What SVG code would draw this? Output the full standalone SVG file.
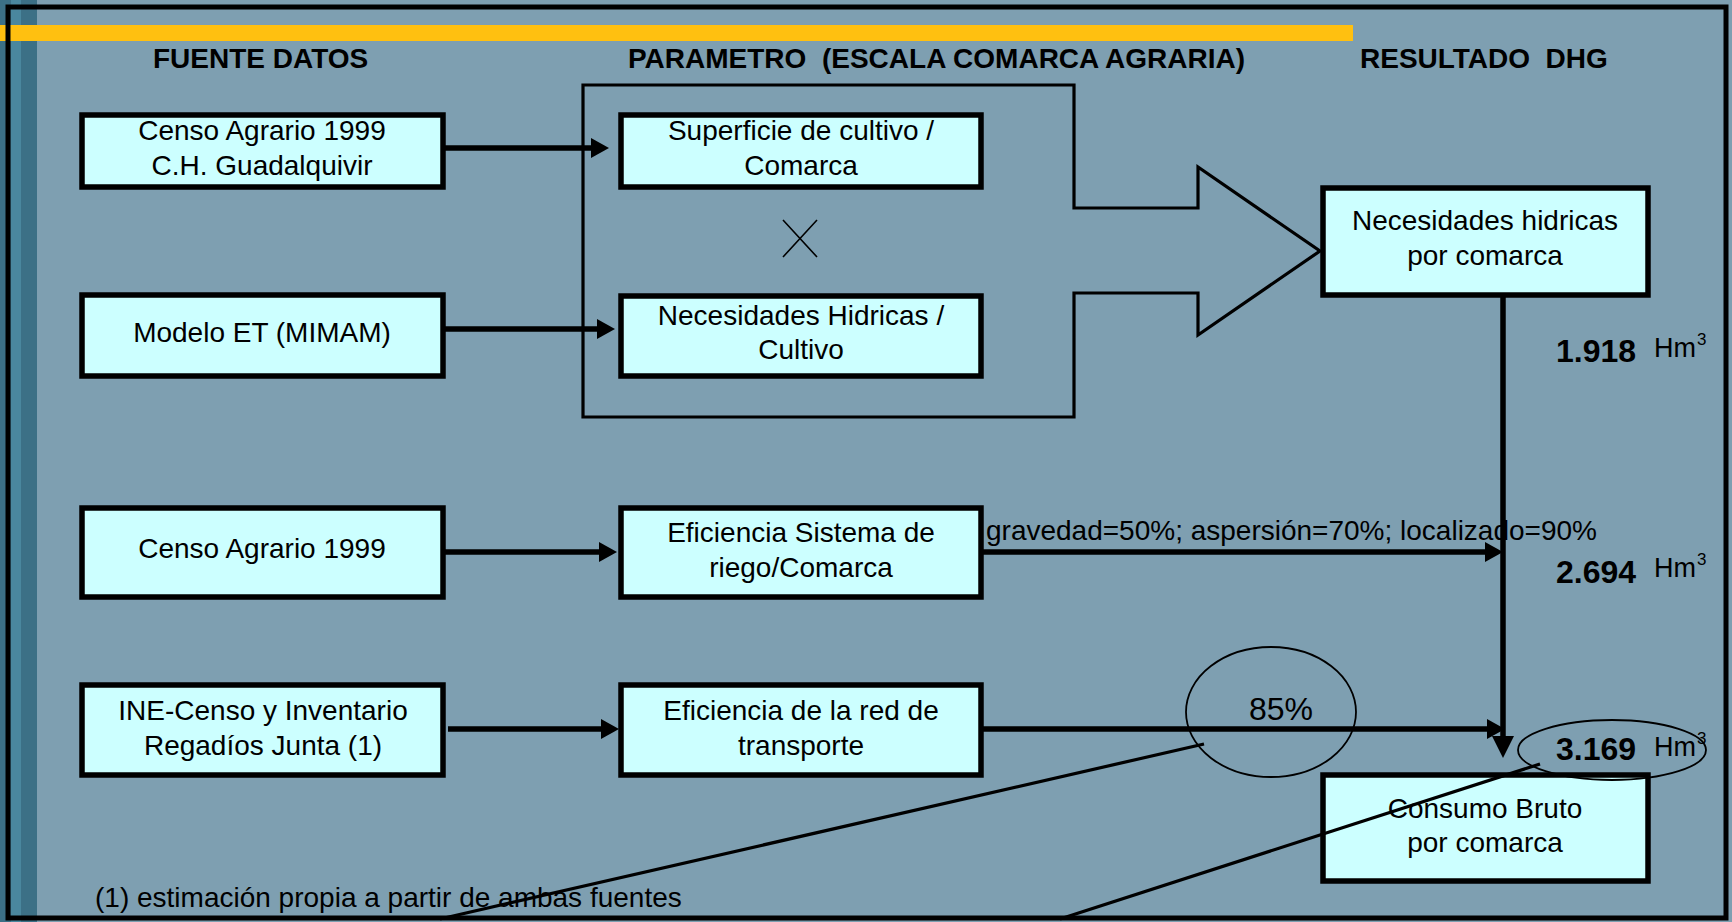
<svg xmlns="http://www.w3.org/2000/svg" width="1732" height="922" viewBox="0 0 1732 922">
<style>
text{font-family:"Liberation Sans",Arial,sans-serif;fill:#000}
.hd{font-size:28px;font-weight:bold;white-space:pre}
.t{font-size:28px;text-anchor:middle}
.box{fill:#CCFFFF;stroke:#000;stroke-width:5.5}
.con{fill:none;stroke:#000;stroke-width:5.5}
.thin{fill:none;stroke:#000;stroke-width:3.2}
.ell{fill:none;stroke:#000;stroke-width:1.8}
.num{font-size:32px;font-weight:bold}
.unit{font-size:27px}
.sup{font-size:17px}
</style>
<defs>
<marker id="ah" viewBox="0 0 18 20" markerWidth="18" markerHeight="20" markerUnits="userSpaceOnUse" refX="8" refY="10" orient="auto">
<path d="M0,0 L18,10 L0,20 z" fill="#000"/>
</marker>
<marker id="ahv" viewBox="0 0 22 22" markerWidth="22" markerHeight="22" markerUnits="userSpaceOnUse" refX="10" refY="11" orient="auto">
<path d="M0,0 L22,11 L0,22 z" fill="#000"/>
</marker>
</defs>
<rect x="0" y="0" width="1732" height="922" fill="#7E9FB1"/>
<rect x="0" y="0" width="37" height="922" fill="#3C7086"/>
<rect x="11" y="0" width="10" height="922" fill="#4A879E"/>
<rect x="0" y="25" width="1353" height="16" fill="#FFC010"/>
<rect x="8" y="7" width="1718" height="911" fill="none" stroke="#000" stroke-width="5"/>

<g id="headers">
<text class="hd" x="153" y="68">FUENTE DATOS</text>
<text class="hd" x="628" y="68">PARAMETRO  (ESCALA COMARCA AGRARIA)</text>
<text class="hd" x="1360" y="68">RESULTADO  DHG</text>
</g>

<g id="container">
<path class="thin" d="M583,85 L1074,85 L1074,208 L1198,208 L1198,167 L1320,251 L1198,335 L1198,293 L1074,293 L1074,417 L583,417 Z"/>
<path d="M783,220 L817,257 M817,220 L783,257" stroke="#000" stroke-width="1.6" fill="none"/>
</g>

<g id="src1"><rect class="box" x="82" y="115" width="361" height="72"/>
<text class="t" x="262" y="140">Censo Agrario 1999</text><text class="t" x="262" y="175">C.H. Guadalquivir</text></g>
<g id="src2"><rect class="box" x="82" y="295" width="361" height="81"/>
<text class="t" x="262" y="342">Modelo ET (MIMAM)</text></g>
<g id="src3"><rect class="box" x="82" y="508" width="361" height="89"/>
<text class="t" x="262" y="558">Censo Agrario 1999</text></g>
<g id="src4"><rect class="box" x="82" y="685" width="361" height="90"/>
<text class="t" x="263" y="720">INE-Censo y Inventario</text><text class="t" x="263" y="755">Regadíos Junta (1)</text></g>

<g id="par1"><rect class="box" x="621" y="115" width="360" height="72"/>
<text class="t" x="801" y="140">Superficie de cultivo /</text><text class="t" x="801" y="175">Comarca</text></g>
<g id="par2"><rect class="box" x="621" y="296" width="360" height="80"/>
<text class="t" x="801" y="325">Necesidades Hidricas /</text><text class="t" x="801" y="359">Cultivo</text></g>
<g id="par3"><rect class="box" x="621" y="508" width="360" height="89"/>
<text class="t" x="801" y="542">Eficiencia Sistema de</text><text class="t" x="801" y="577">riego/Comarca</text></g>
<g id="par4"><rect class="box" x="621" y="685" width="360" height="90"/>
<text class="t" x="801" y="720">Eficiencia de la red de</text><text class="t" x="801" y="755">transporte</text></g>

<g id="res1"><rect class="box" x="1323" y="188" width="325" height="107"/>
<text class="t" x="1485" y="230">Necesidades hidricas</text><text class="t" x="1485" y="265">por comarca</text></g>
<g id="res2"><rect class="box" x="1323" y="775" width="325" height="106"/>
<text class="t" x="1485" y="818">Consumo Bruto</text><text class="t" x="1485" y="852">por comarca</text></g>

<g id="connectors">
<line class="con" x1="445" y1="148" x2="599" y2="148" marker-end="url(#ah)"/>
<line class="con" x1="445" y1="329" x2="605" y2="329" marker-end="url(#ah)"/>
<line class="con" x1="445" y1="552" x2="607" y2="552" marker-end="url(#ah)"/>
<line class="con" x1="448" y1="729" x2="609" y2="729" marker-end="url(#ah)"/>
<line class="con" x1="983" y1="552" x2="1493" y2="552" marker-end="url(#ah)"/>
<line class="con" x1="983" y1="729" x2="1495" y2="729" marker-end="url(#ah)"/>
<line class="con" x1="1503" y1="297" x2="1503" y2="746" marker-end="url(#ahv)"/>
</g>

<g id="labels">
<text x="986" y="540" style="font-size:28px">gravedad=50%; aspersión=70%; localizado=90%</text>
<text class="num" x="1556" y="362">1.918</text><text class="unit" x="1654" y="357">Hm</text><text class="sup" x="1697" y="345">3</text>
<text class="num" x="1556" y="583">2.694</text><text class="unit" x="1654" y="577">Hm</text><text class="sup" x="1697" y="565">3</text>
<text class="num" x="1556" y="760">3.169</text><text class="unit" x="1654" y="756">Hm</text><text class="sup" x="1697" y="744">3</text>
<text x="1281" y="720" style="font-size:32px;text-anchor:middle">85%</text>
<text x="95" y="907" style="font-size:28px">(1) estimación propia a partir de ambas fuentes</text>
</g>

<g id="callouts">
<ellipse class="ell" cx="1271" cy="712" rx="85" ry="65"/>
<ellipse class="ell" cx="1612" cy="750" rx="94" ry="30"/>
<line class="thin" x1="440" y1="919" x2="1204" y2="744"/>
<line class="thin" x1="1060" y1="919" x2="1540" y2="764"/>
</g>
</svg>
